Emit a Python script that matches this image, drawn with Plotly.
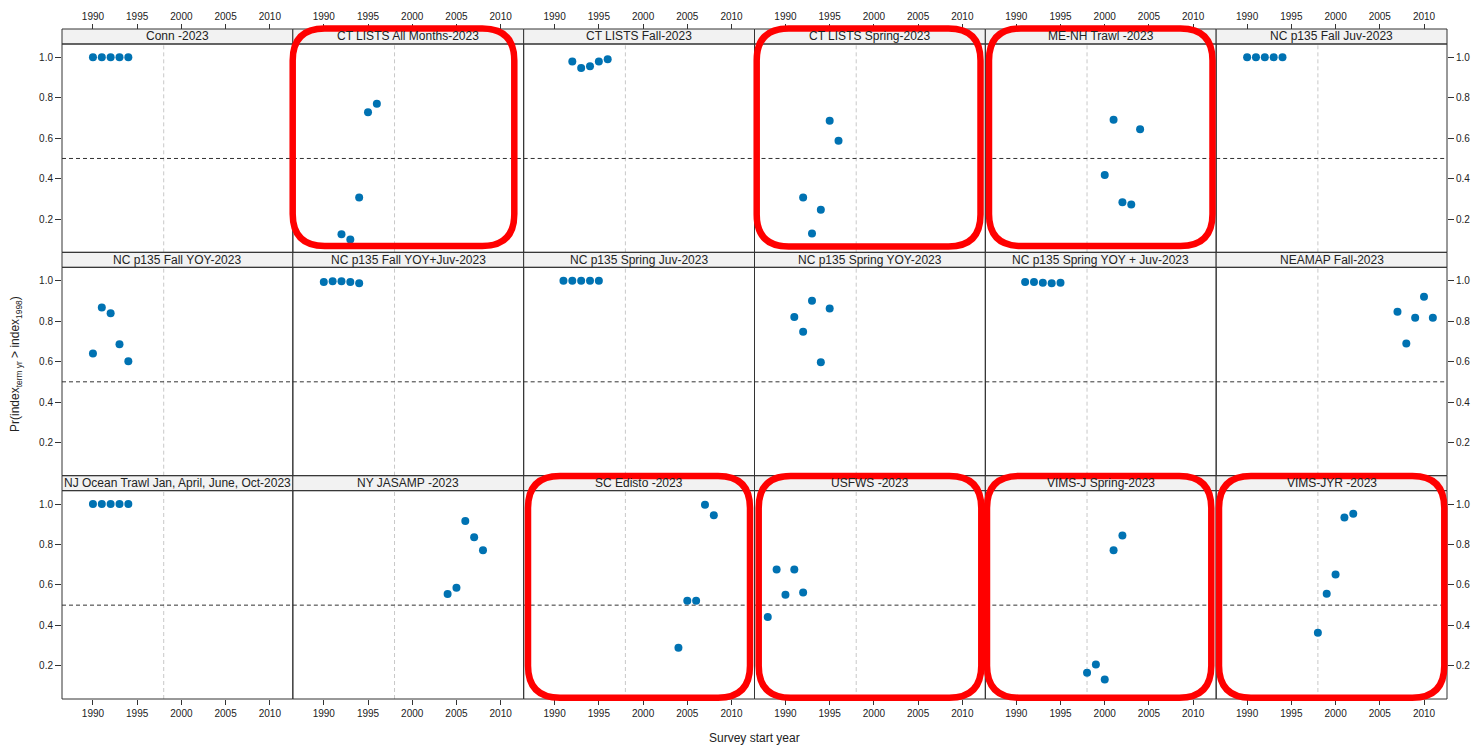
import plotly.graph_objects as go

# ---------------- data ----------------
titles = [
    "Conn -2023", "CT LISTS All Months-2023", "CT LISTS Fall-2023",
    "CT LISTS Spring-2023", "ME-NH Trawl -2023", "NC p135 Fall Juv-2023",
    "NC p135 Fall YOY-2023", "NC p135 Fall YOY+Juv-2023", "NC p135 Spring Juv-2023",
    "NC p135 Spring YOY-2023", "NC p135 Spring YOY + Juv-2023", "NEAMAP Fall-2023",
    "NJ Ocean Trawl Jan, April, June, Oct-2023", "NY JASAMP -2023", "SC Edisto -2023",
    "USFWS -2023", "VIMS-J Spring-2023", "VIMS-JYR -2023",
]

conn_years = [1990, 1991, 1992, 1993, 1994]
conn_vals = [1.0, 1.0, 1.0, 1.0, 1.0]
ct_all_years = [1992, 1993, 1994, 1995, 1996]
ct_all_vals = [0.126, 0.100, 0.307, 0.729, 0.770]
ct_fall_years = [1992, 1993, 1994, 1995, 1996]
ct_fall_vals = [0.979, 0.947, 0.956, 0.979, 0.990]
ct_spring_years = [1992, 1993, 1994, 1995, 1996]
ct_spring_vals = [0.307, 0.129, 0.246, 0.686, 0.588]
menh_years = [2000, 2001, 2002, 2003, 2004]
menh_vals = [0.418, 0.691, 0.284, 0.272, 0.644]
nc_fall_juv_years = [1990, 1991, 1992, 1993, 1994]
nc_fall_juv_vals = [1.0, 1.0, 1.0, 1.0, 1.0]
nc_fall_yoy_years = [1990, 1991, 1992, 1993, 1994]
nc_fall_yoy_vals = [0.640, 0.867, 0.839, 0.686, 0.602]
nc_fall_yj_years = [1990, 1991, 1992, 1993, 1994]
nc_fall_yj_vals = [0.993, 0.997, 0.997, 0.993, 0.987]
nc_spr_juv_years = [1991, 1992, 1993, 1994, 1995]
nc_spr_juv_vals = [1.0, 1.0, 1.0, 1.0, 1.0]
nc_spr_yoy_years = [1991, 1992, 1993, 1994, 1995]
nc_spr_yoy_vals = [0.821, 0.748, 0.901, 0.597, 0.863]
nc_spr_yj_years = [1991, 1992, 1993, 1994, 1995]
nc_spr_yj_vals = [0.993, 0.993, 0.990, 0.987, 0.990]
neamap_years = [2007, 2008, 2009, 2010, 2011]
neamap_vals = [0.847, 0.689, 0.817, 0.921, 0.817]
nj_years = [1990, 1991, 1992, 1993, 1994]
nj_vals = [1.0, 1.0, 1.0, 1.0, 1.0]
ny_years = [2004, 2005, 2006, 2007, 2008]
ny_vals = [0.555, 0.586, 0.916, 0.836, 0.772]
sc_years = [2004, 2005, 2006, 2007, 2008]
sc_vals = [0.290, 0.522, 0.522, 0.997, 0.944]
usfws_years = [1988, 1989, 1990, 1991, 1992]
usfws_vals = [0.441, 0.676, 0.552, 0.676, 0.563]
vimsj_years = [1998, 1999, 2000, 2001, 2002]
vimsj_vals = [0.166, 0.207, 0.133, 0.772, 0.844]
vimsjyr_years = [1998, 1999, 2000, 2001, 2002]
vimsjyr_vals = [0.364, 0.556, 0.652, 0.933, 0.952]

series = [
    (conn_years, conn_vals), (ct_all_years, ct_all_vals), (ct_fall_years, ct_fall_vals),
    (ct_spring_years, ct_spring_vals), (menh_years, menh_vals), (nc_fall_juv_years, nc_fall_juv_vals),
    (nc_fall_yoy_years, nc_fall_yoy_vals), (nc_fall_yj_years, nc_fall_yj_vals), (nc_spr_juv_years, nc_spr_juv_vals),
    (nc_spr_yoy_years, nc_spr_yoy_vals), (nc_spr_yj_years, nc_spr_yj_vals), (neamap_years, neamap_vals),
    (nj_years, nj_vals), (ny_years, ny_vals), (sc_years, sc_vals),
    (usfws_years, usfws_vals), (vimsj_years, vimsj_vals), (vimsjyr_years, vimsjyr_vals),
]

x_ticks = [1990, 1995, 2000, 2005, 2010]
y_ticks = [0.2, 0.4, 0.6, 0.8, 1.0]
y_ticktext = ["0.2", "0.4", "0.6", "0.8", "1.0"]
ref_year = 1998
threshold = 0.5
highlighted = [1, 3, 4, 14, 15, 16, 17]

# ---------------- layout geometry ----------------
W, H = 1473, 748
ML, MR, MT, MB = 62, 26, 29, 49
PW, PH = W - ML - MR, H - MT - MB
NCOL, NROW = 6, 3
STRIP = 15 / PH
FONT = "Liberation Sans, Arial, sans-serif"
TXT = "#222222"
DOT = "#0072B2"

fig = go.Figure()
layout = {}
shapes = []
annotations = []

for k, (yrs, vals) in enumerate(series):
    r, c = divmod(k, NCOL)
    n = k + 1
    xa = "x" if n == 1 else f"x{n}"
    ya = "y" if n == 1 else f"y{n}"
    x0, x1 = c / NCOL, (c + 1) / NCOL
    row_top = 1 - r / NROW
    row_bot = 1 - (r + 1) / NROW
    plot_top = row_top - STRIP

    fig.add_trace(go.Scatter(
        x=yrs, y=vals, mode="markers", xaxis=xa, yaxis=ya,
        marker=dict(color=DOT, size=8, line=dict(width=0)),
        showlegend=False, hoverinfo="x+y"))

    xax = dict(domain=[x0, x1], range=[1986.5, 2012.6], showgrid=False, zeroline=False,
               showline=False, tickvals=x_ticks, ticklen=5, tickcolor="#333",
               tickfont=dict(size=10, color=TXT, family=FONT), fixedrange=True,
               automargin=False)
    if r == 0:
        xax.update(anchor="free", position=1.0, side="top", ticks="outside", showticklabels=True)
    elif r == NROW - 1:
        xax.update(anchor=ya, side="bottom", ticks="outside", showticklabels=True)
    else:
        xax.update(anchor=ya, ticks="", showticklabels=False)

    yax = dict(domain=[row_bot, plot_top], range=[0.036, 1.066], anchor=xa, showgrid=False,
               zeroline=False, showline=False, tickvals=y_ticks, ticktext=y_ticktext,
               ticklen=6, tickcolor="#333", tickfont=dict(size=10, color=TXT, family=FONT),
               fixedrange=True, automargin=False)
    if c == 0:
        yax.update(side="left", ticks="outside", showticklabels=True)
    elif c == NCOL - 1:
        yax.update(side="right", ticks="outside", showticklabels=True)
    else:
        yax.update(ticks="", showticklabels=False)

    layout["xaxis" if n == 1 else f"xaxis{n}"] = xax
    layout["yaxis" if n == 1 else f"yaxis{n}"] = yax

    # reference-year vertical dashed line
    shapes.append(dict(type="line", xref=xa, yref=f"{ya} domain", x0=ref_year, x1=ref_year,
                       y0=0, y1=1, line=dict(color="#c8c8c8", width=1, dash="4px,3px"), layer="below"))
    # threshold horizontal dashed line
    shapes.append(dict(type="line", xref=f"{xa} domain", yref=ya, x0=0, x1=1,
                       y0=threshold, y1=threshold, line=dict(color="#333333", width=1, dash="4px,3px"),
                       layer="below"))
    # strip
    shapes.append(dict(type="rect", xref="paper", yref="paper", x0=x0, x1=x1, y0=plot_top, y1=row_top,
                       fillcolor="#f2f2f2", line=dict(color="#333333", width=1), layer="below"))
    # panel border
    shapes.append(dict(type="rect", xref="paper", yref="paper", x0=x0, x1=x1, y0=row_bot, y1=plot_top,
                       fillcolor="rgba(0,0,0,0)", line=dict(color="#333333", width=1), layer="above"))
    annotations.append(dict(text=titles[k], xref="paper", yref="paper", x=(x0 + x1) / 2,
                            y=(plot_top + row_top) / 2, xanchor="center", yanchor="middle",
                            showarrow=False, font=dict(size=12, color=TXT, family=FONT)))


# ---------------- red highlight rounded boxes ----------------
def px_to_paper(px, py):
    return (px - ML) / PW, 1 - (py - MT) / PH


def rounded_path(bx0, bx1, by0, by1, rad):
    def P(px, py):
        x, y = px_to_paper(px, py)
        return f"{x:.5f},{y:.5f}"
    return (f"M {P(bx0 + rad, by0)} L {P(bx1 - rad, by0)} Q {P(bx1, by0)} {P(bx1, by0 + rad)} "
            f"L {P(bx1, by1 - rad)} Q {P(bx1, by1)} {P(bx1 - rad, by1)} "
            f"L {P(bx0 + rad, by1)} Q {P(bx0, by1)} {P(bx0, by1 - rad)} "
            f"L {P(bx0, by0 + rad)} Q {P(bx0, by0)} {P(bx0 + rad, by0)} Z")


box_px = {
    1: (292.7, 514.3, 28.5, 246.0),
    3: (756.7, 980.5, 28.5, 246.5),
    4: (989.0, 1212.5, 28.5, 246.0),
    14: (528.0, 750.0, 476.0, 697.7),
    15: (758.7, 981.3, 476.0, 697.7),
    16: (987.0, 1211.3, 476.0, 697.7),
    17: (1219.0, 1444.3, 476.0, 697.7),
}
for k in highlighted:
    bx0, bx1, by0, by1 = box_px[k]
    shapes.append(dict(type="path", xref="paper", yref="paper", path=rounded_path(bx0, bx1, by0, by1, 32),
                       line=dict(color="#ff0000", width=6.5), fillcolor="rgba(0,0,0,0)", layer="above"))

# ---------------- axis titles ----------------
annotations.append(dict(text="Pr(index<sub>term yr</sub> &gt; index<sub>1998</sub>)",
                        xref="paper", yref="paper", x=(16 - ML) / PW, y=0.5, textangle=-90,
                        xanchor="center", yanchor="middle", showarrow=False,
                        font=dict(size=12, color=TXT, family=FONT)))
annotations.append(dict(text="Survey start year", xref="paper", yref="paper", x=0.5,
                        y=1 - (738 - MT) / PH, xanchor="center", yanchor="middle", showarrow=False,
                        font=dict(size=12, color=TXT, family=FONT)))

fig.update_layout(**layout)
fig.update_layout(width=W, height=H, autosize=False,
                  margin=dict(l=ML, r=MR, t=MT, b=MB, pad=0, autoexpand=False),
                  paper_bgcolor="white", plot_bgcolor="white", shapes=shapes,
                  annotations=annotations, showlegend=False,
                  font=dict(family=FONT, color=TXT))

# remove the default page margin so the figure fills the window exactly
page_fix = ("document.documentElement.style.overflow='hidden';"
            "document.body.style.margin='0px';document.body.style.overflow='hidden';")
fig.write_html("out.html", post_script=page_fix, config={"displayModeBar": False})
